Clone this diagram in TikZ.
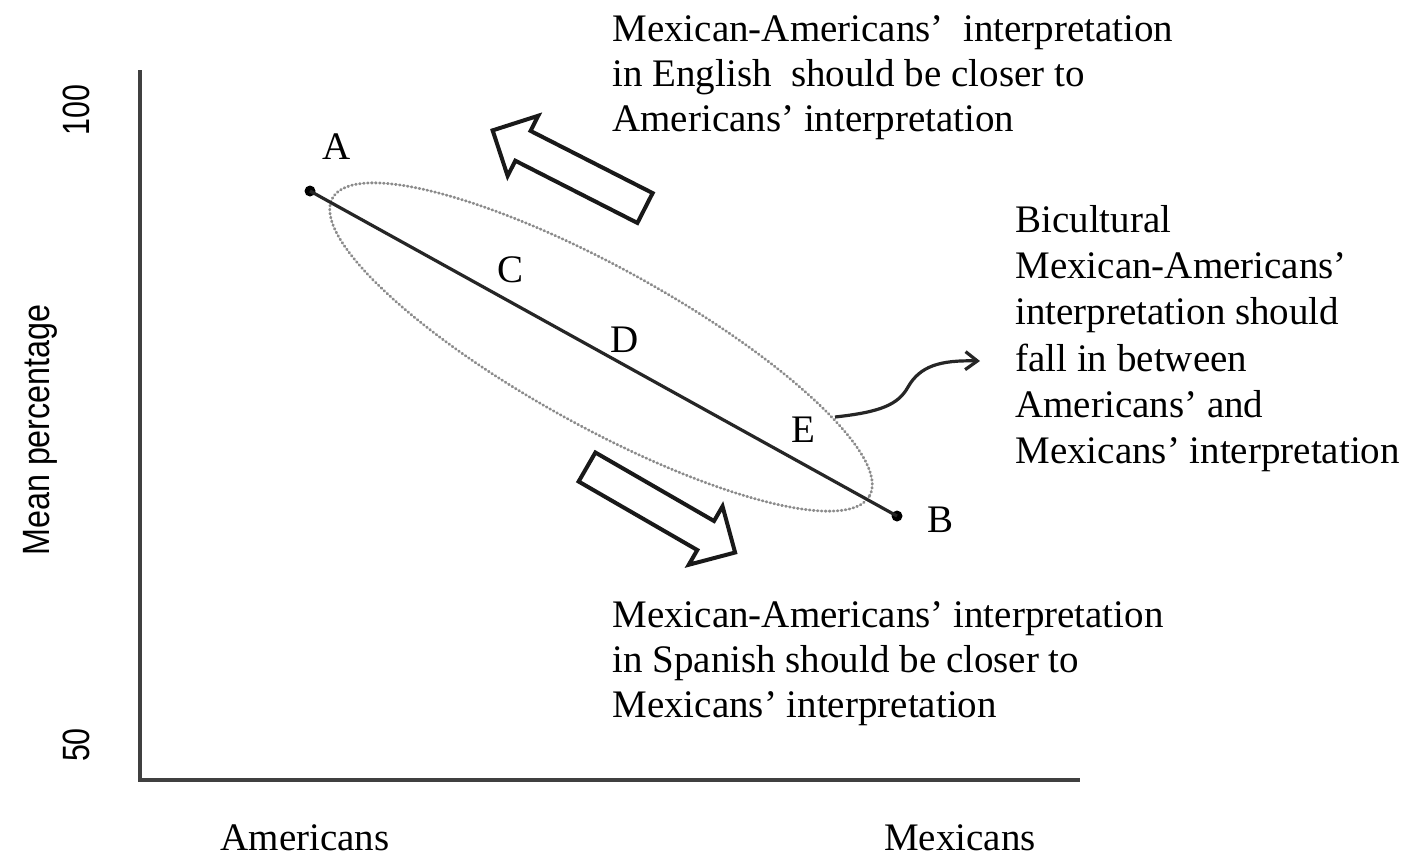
\documentclass[tikz,border=0pt]{standalone}
\usepackage{fontspec}
\setmainfont{Liberation Serif}
\newfontfamily\axisfont{Liberation Sans}
\usetikzlibrary{shapes.geometric,arrows.meta}
\begin{document}
\begin{tikzpicture}[x=0.5pt,y=-0.5pt,
  axisline/.style={line width=1.6pt, draw=black!75},
  mainline/.style={line width=1.6pt, draw=black!85},
  dotnode/.style={circle, fill=black, inner sep=0pt, minimum size=5.5pt},
  letter/.style={font=\fontsize{19.5}{22.5}\selectfont, inner sep=0pt},
  txt/.style={font=\fontsize{19.5}{22.5}\selectfont, inner sep=0pt, align=left, anchor=north west},
  txtb/.style={font=\fontsize{19.5}{23.1}\selectfont, inner sep=0pt, align=left, anchor=north west},
  axlabel/.style={font=\axisfont\fontsize{19}{21}\selectfont, inner sep=0pt, rotate=90},
  cloud/.style={draw=black!45, line width=1.4pt, dash pattern=on 0.4pt off 1.6pt, line cap=round, ellipse, inner sep=0pt},
  wavy/.style={line width=1.6pt, draw=black!85, -{Straight Barb[length=6pt,width=9pt,line width=1.6pt]}},
  blockarrow/.pic={\draw[line width=2pt, line join=miter, draw=black!90] (0,-16.75) -- (137,-16.75) -- (137,-33.75) -- (171,0) -- (137,33.75) -- (137,16.75) -- (0,16.75) -- cycle;}
]
\useasboundingbox (0,0) rectangle (1411,859);
\fill[white] (0,0) rectangle (1411,859);

% axes
\coordinate (ytop) at (140,70);
\coordinate (orig) at (140,780);
\coordinate (xend) at (1080,780);
\draw[axisline] (ytop) -- (orig) -- (xend);

\node[axlabel] (y100) at (76,110) {\scalebox{0.8}[1]{100}};
\node[axlabel] (y50) at (76,745) {\scalebox{0.8}[1]{50}};
\node[axlabel] (ylab) at (40,430) {\scalebox{0.85}[1]{Mean percentage}};
\node[letter] (xam) at (305,838) {Americans};
\node[letter] (xmx) at (960,838) {Mexicans};

% ellipse
\node[cloud, rotate=-29, minimum width=307pt, minimum height=79pt] (ell) at (601,347) {};

% line A-B
\node[dotnode] (A) at (310,191) {};
\node[dotnode] (B) at (897,516) {};
\draw[mainline] (A.center) -- (B.center);

\node[letter] (lA) at (337,147) {A};
\node[letter] (lB) at (940,520) {B};
\node[letter] (lC) at (510,270) {C};
\node[letter] (lD) at (625,340) {D};
\node[letter] (lE) at (803,430) {E};

% block arrows
\pic[rotate=153] at (645,208) {blockarrow};
\pic[rotate=-30] at (587,467) {blockarrow};

% texts
\node[txt] (ttop) at (612,15) {Mexican-Americans'\ \ interpretation\\in English\ \ should be closer to\\Americans' interpretation};
\node[txt] (tbot) at (612,601) {Mexican-Americans' interpretation\\in Spanish should be closer to\\Mexicans' interpretation};
\node[txtb] (tbic) at (1015,205) {Bicultural\\Mexican-Americans'\\interpretation should\\fall in between\\Americans' and\\Mexicans' interpretation};

% wavy connector
\coordinate (w0) at (835,417);
\coordinate (w1) at (980,361);
\draw[wavy] (w0) .. controls (880,412) and (898,405) .. (908,387) .. controls (920,366) and (940,360) .. (w1);
\end{tikzpicture}
\end{document}
